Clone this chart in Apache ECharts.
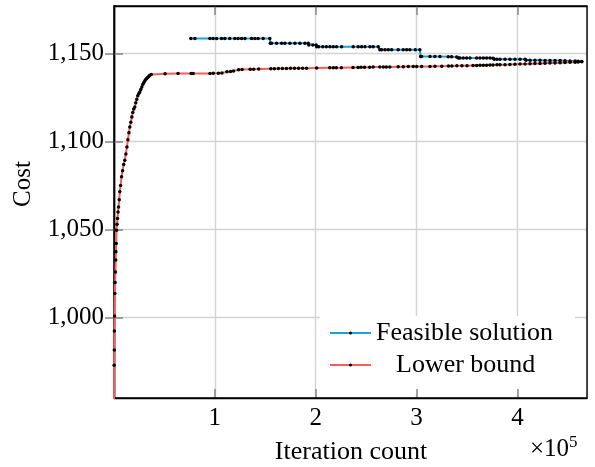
<!DOCTYPE html>
<html>
<head>
<meta charset="utf-8">
<script src="https://cdn.jsdelivr.net/npm/echarts@6/dist/echarts.min.js"></script>
<style>
html,body{margin:0;padding:0;background:#fff;}
#chart{width:595px;height:467px;}
</style>
</head>
<body>
<div id="chart"></div>
<script>
const seriesNames = ['Feasible solution', 'Lower bound'];
const xTicks = [100000, 200000, 300000, 400000];
const yTicks = [1000, 1050, 1100, 1150];

const feasibleIter = [76200,80200,95100,98300,101700,106600,109900,114800,119800,123100,126500,129800,136400,139700,142900,147900,154500,
  155000,156200,161200,166200,169400,174400,179400,184300,189300,192600,
  193200,197200,200400,
  201000,203000,207000,210500,214100,217400,220700,225700,237200,242100,245500,248800,253800,257000,262000,
  263600,265400,268700,271900,275300,281800,286800,290200,293400,298700,303300,
  304000,305000,313300,318200,323200,331400,334800,339800,
  341400,343000,346300,349700,353000,359600,362900,366200,369500,372800,375800,
  377000,379700,382700,387700,392600,397600,402600,407500,
  408500,412500,417400,422400,427400,432300,437300,442300,447200,452200,457200,460200,463800];
const feasibleCost = [1158.5,1158.5,1158.5,1158.5,1158.5,1158.5,1158.5,1158.5,1158.5,1158.5,1158.5,1158.5,1158.5,1158.5,1158.5,1158.5,1158.5,
  1155.8,1155.8,1155.8,1155.8,1155.8,1155.8,1155.8,1155.8,1155.8,1155.8,
  1154.8,1154.8,1154.8,
  1153.9,1153.9,1153.9,1153.9,1153.9,1153.9,1153.9,1153.9,1153.9,1153.9,1153.9,1153.9,1153.9,1153.9,1153.9,
  1152.2,1152.2,1152.2,1152.2,1152.2,1152.2,1152.2,1152.2,1152.2,1152.2,1152.2,
  1148.3,1148.3,1148.3,1148.3,1148.3,1148.2,1148.2,1148.1,
  1147.5,1147.5,1147.5,1147.5,1147.5,1147.5,1147.5,1147.5,1147.5,1147.5,1147.4,
  1146.8,1146.8,1146.8,1146.8,1146.8,1146.8,1146.7,1146.7,
  1146.2,1146.2,1146.2,1146.2,1146.1,1146.1,1146.0,1146.0,1145.9,1145.8,1145.7,1145.6,1145.5];

const lowerIter = [0,150,250,400,550,800,1100,1400,1700,1900,2200,2500,3000,3500,4000,4500,5200,5750,6500,7500,8500,9600,10700,11800,12800,13800,14800,15700,16700,17700,18600,19600,20600,21600,22600,23600,24600,25600,26600,27600,28600,29600,30600,31600,32600,33600,34600,35500,37000,
  50600,63500,76500,78500,95200,98500,103500,107000,112000,115500,118500,123500,127000,135000,138500,143500,
  155500,159000,163000,167000,171000,175000,179000,183000,187000,191000,201000,
  214000,217500,220500,225500,237000,242000,245000,248500,253500,257000,263500,267000,270000,273500,281800,286800,291800,296700,300100,305000,313300,318300,325000,331600,335000,340000,345000,350000,
  356000,359600,362900,366200,369500,372800,375800,379700,382700,387700,392600,397600,402600,407500,412500,417400,422400,427400,432300,437300,442300,447200,452200,457200,460200,463800];
const lowerCost = [930,973,981.6,992.5,1001,1013.8,1020,1026,1032.7,1037.4,1042.2,1049.7,1053,1056.4,1060,1062.9,1067,1071.5,1075,1080,1083.5,1087,1089.4,1093,1097,1101,1105,1108.3,1111,1114,1116.5,1118.5,1119.7,1122,1124,1126,1127.3,1128.2,1129.6,1131,1132.5,1133.5,1134.5,1135.4,1136,1136.6,1137.1,1137.7,1138.1,
  1138.5,1138.6,1138.7,1138.7,1138.7,1138.8,1138.8,1138.9,1139.6,1139.8,1140.1,1140.8,1141.0,1141.1,1141.1,1141.2,
  1141.4,1141.4,1141.5,1141.5,1141.5,1141.6,1141.6,1141.6,1141.7,1141.7,1141.8,
  1141.9,1141.9,1142.0,1142.0,1142.1,1142.1,1142.2,1142.2,1142.2,1142.3,1142.3,1142.3,1142.4,1142.4,1142.5,1142.5,1142.6,1142.6,1142.6,1142.7,1142.7,1142.8,1142.8,1142.9,1142.9,1143.0,1143.0,1143.1,
  1143.2,1143.2,1143.3,1143.4,1143.4,1143.5,1143.5,1143.6,1143.7,1143.7,1143.8,1143.9,1144.0,1144.1,1144.2,1144.3,1144.4,1144.5,1144.6,1144.7,1144.8,1144.9,1145.0,1145.1,1145.2,1145.3];

const X_MIN = 0, X_MAX = 469000, Y_MIN = 954.4, Y_MAX = 1177;
const FONT = 'Liberation Serif';
const FS = 25;
const FS_BIG = 26;

function zip(a, b) { return a.map((v, i) => [v, b[i]]); }

const chart = echarts.init(document.getElementById('chart'), null, {renderer: 'canvas'});

const tickStyle = {show: true, inside: true, length: 9, lineStyle: {color: '#8c8c8c', width: 1.6}};
const gridLine = {show: true, lineStyle: {color: '#d4d4d4', width: 1.4}};

const xBase = {type: 'value', min: X_MIN, max: X_MAX, interval: 100000};
const yBase = {type: 'value', min: Y_MIN, max: Y_MAX};

chart.setOption({
  animation: false,
  backgroundColor: '#ffffff',
  grid: {left: 114, right: 8, top: 6, bottom: 69, show: true, borderColor: '#000', borderWidth: 1.4, backgroundColor: 'transparent', z: 6},
  xAxis: [
    Object.assign({}, xBase, {position: 'bottom', z: 5,
      axisLine: {show: true, lineStyle: {color: '#000', width: 1.4}},
      axisTick: Object.assign({customValues: xTicks}, tickStyle),
      axisLabel: {customValues: xTicks, formatter: v => String(Math.round(v / 100000)), color: '#000', fontFamily: FONT, fontSize: FS, margin: 8},
      splitLine: {show: false}}),
    Object.assign({}, xBase, {position: 'top', z: 5,
      axisLine: {show: true, lineStyle: {color: '#000', width: 1.4}},
      axisTick: Object.assign({customValues: xTicks}, tickStyle),
      axisLabel: {show: false},
      splitLine: {show: false}}),
    Object.assign({}, xBase, {position: 'bottom', z: 0,
      axisLine: {show: false}, axisTick: {show: false}, axisLabel: {show: false},
      splitLine: gridLine})
  ],
  yAxis: [
    Object.assign({}, yBase, {position: 'left', z: 5,
      axisLine: {show: true, lineStyle: {color: '#000', width: 1.4}},
      axisTick: Object.assign({customValues: yTicks}, tickStyle),
      axisLabel: {customValues: yTicks, formatter: v => v.toLocaleString('en-US'), color: '#000', fontFamily: FONT, fontSize: FS, margin: 10},
      splitLine: {show: false}}),
    Object.assign({}, yBase, {position: 'right', z: 5,
      axisLine: {show: true, lineStyle: {color: '#000', width: 1.4}},
      axisTick: Object.assign({customValues: yTicks}, tickStyle),
      axisLabel: {show: false},
      splitLine: {show: false}}),
    Object.assign({}, yBase, {position: 'left', z: 0,
      axisLine: {show: false}, axisTick: {show: false, customValues: yTicks}, axisLabel: {show: false, customValues: yTicks},
      splitLine: gridLine})
  ],
  legend: {
    data: seriesNames,
    orient: 'vertical',
    left: 320, top: 316,
    padding: [4, 22, 16, 9],
    itemGap: 6,
    itemWidth: 41,
    itemHeight: 4,
    backgroundColor: '#ffffff',
    borderWidth: 0,
    z: 4,
    formatter: name => name === 'Lower bound' ? '{c|' + name + '}' : name,
    textStyle: {color: '#000', fontFamily: FONT, fontSize: FS_BIG,
      rich: {c: {color: '#000', fontFamily: FONT, fontSize: FS_BIG, padding: [0, 0, 0, 20]}}}
  },
  graphic: [
    {type: 'text', x: 23, y: 184, rotation: Math.PI / 2,
      style: {text: 'Cost', fill: '#000', font: FS + 'px "' + FONT + '"', align: 'center', verticalAlign: 'middle'}},
    {type: 'text', x: 351, y: 452,
      style: {text: 'Iteration count', fill: '#000', font: FS_BIG + 'px "' + FONT + '"', align: 'center', verticalAlign: 'middle'}},
    {type: 'text', x: 530, y: 449,
      style: {text: '×10{s|5}', fill: '#000', font: FS + 'px "' + FONT + '"', align: 'left', verticalAlign: 'middle',
        rich: {s: {fontFamily: FONT, fontSize: 17, fill: '#000', verticalAlign: 'bottom', padding: [0, 0, 12, 0]}}}}
  ],
  series: [
    {name: seriesNames[0], type: 'line', xAxisIndex: 0, yAxisIndex: 0,
      data: zip(feasibleIter, feasibleCost),
      symbol: 'circle', symbolSize: 3.5, showSymbol: true,
      lineStyle: {color: '#1ba3d6', width: 2},
      itemStyle: {color: '#000'}, z: 10},
    {name: seriesNames[1], type: 'line', xAxisIndex: 0, yAxisIndex: 0,
      data: zip(lowerIter, lowerCost),
      symbol: 'circle', symbolSize: 3.5, showSymbol: true,
      lineStyle: {color: '#ff5a5a', width: 2},
      itemStyle: {color: '#000'}, z: 10}
  ]
});
</script>
</body>
</html>
